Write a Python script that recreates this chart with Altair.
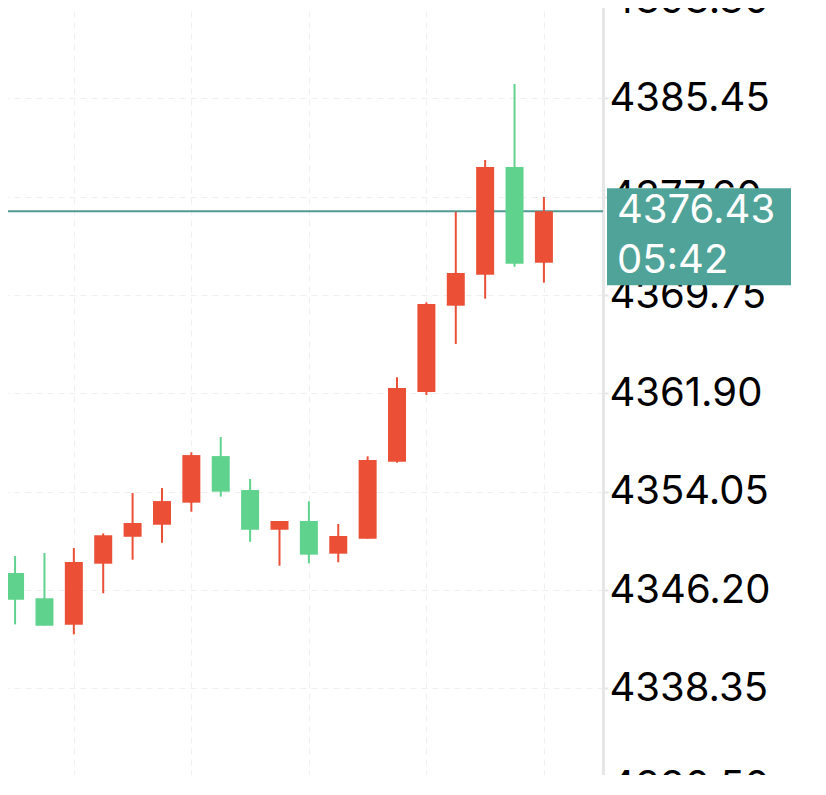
import altair as alt
import pandas as pd

# candle index, OHLC values
idx = list(range(19))
opens = [4347.57, 4345.55, 4343.44, 4348.31, 4350.46, 4351.42, 4353.18, 4356.90, 4354.19, 4351.02,
         4351.72, 4349.11, 4350.30, 4356.45, 4362.01, 4368.90, 4371.38, 4379.97, 4372.33]
highs = [4348.92, 4349.16, 4349.56, 4350.73, 4353.95, 4354.35, 4357.20, 4358.42, 4355.07, 4351.72,
         4353.29, 4351.48, 4356.88, 4363.19, 4369.17, 4376.40, 4380.53, 4386.60, 4377.58]
lows = [4343.47, 4343.36, 4342.67, 4345.95, 4348.63, 4349.98, 4352.46, 4353.66, 4350.06, 4348.15,
        4348.34, 4348.42, 4350.30, 4356.37, 4361.77, 4365.84, 4369.46, 4372.01, 4370.74]
closes = [4345.44, 4343.36, 4348.44, 4350.58, 4351.56, 4353.31, 4356.98, 4354.06, 4351.02, 4351.72,
          4349.03, 4350.52, 4356.59, 4362.33, 4369.04, 4371.51, 4379.97, 4372.25, 4376.43]

tick_values = [4393.30, 4385.45, 4377.60, 4369.75, 4361.90, 4354.05, 4346.20, 4338.35, 4330.50]
grid_x = [2, 6, 10, 14, 18]
last_price = 4376.43
countdown = "05:42"

UP = "#EB5037"
DOWN = "#5FD38D"
TEAL_LINE = "#4F9A93"
TEAL_BOX = "#4FA399"

df = pd.DataFrame({"i": idx, "open": opens, "high": highs, "low": lows, "close": closes})
df["dir"] = ["up" if c >= o else "down" for o, c in zip(opens, closes)]

last_df = pd.DataFrame({"price": [last_price], "label": [f"{last_price:.2f}"], "time": [countdown]})

xscale = alt.Scale(domain=[-0.343, 19.841], nice=False, zero=False)
yscale = alt.Scale(domain=[4329.85, 4393.30], nice=False, zero=False)
color = alt.Color("dir:N", scale=alt.Scale(domain=["up", "down"], range=[UP, DOWN]), legend=None)

FONT = "Inter"
FS = 40

xaxis = alt.Axis(values=grid_x, grid=True, labels=False, ticks=False, domain=False, title=None,
                 gridColor="#efefef", gridDash=[6, 5], gridWidth=1)
yaxis = alt.Axis(orient="right", values=tick_values, format=".2f", title=None, grid=True,
                 gridColor="#efefef", gridDash=[6, 5], gridWidth=1,
                 labelFont=FONT, labelFontSize=FS, labelColor="#000000",
                 labelPadding=1, tickSize=5, tickColor="#e6e6e6", tickWidth=2,
                 domainColor="#e6e6e6", domainWidth=3, labelOverlap=False)

base = alt.Chart(df)

grid = base.mark_point(opacity=0).encode(
    x=alt.X("i:Q", scale=xscale, axis=xaxis),
    y=alt.Y("close:Q", scale=yscale, axis=yaxis),
)

price_line = alt.Chart(last_df).mark_rule(color=TEAL_LINE, strokeWidth=2).encode(
    y=alt.Y("price:Q", scale=yscale)
)

wicks = base.mark_rule(strokeWidth=2).encode(
    x=alt.X("i:Q", scale=xscale),
    y=alt.Y("low:Q", scale=yscale),
    y2="high:Q",
    color=color,
)

bodies = base.mark_bar(size=18).encode(
    x=alt.X("i:Q", scale=xscale),
    y=alt.Y("open:Q", scale=yscale),
    y2="close:Q",
    color=color,
)

box = alt.Chart(last_df).mark_rect(color=TEAL_BOX, yOffset=-23, y2Offset=74).encode(
    x=alt.value(607), x2=alt.value(791),
    y=alt.Y("price:Q", scale=yscale), y2="price:Q",
)

price_text = alt.Chart(last_df).mark_text(
    align="left", baseline="middle", font=FONT, fontSize=FS, color="white"
).encode(x=alt.value(617), y=alt.Y("price:Q", scale=yscale), text="label:N")

time_text = alt.Chart(last_df).mark_text(
    align="left", baseline="middle", font=FONT, fontSize=FS, color="white", dy=50
).encode(x=alt.value(617), y=alt.Y("price:Q", scale=yscale), text="time:N")

chart = alt.layer(grid, price_line, wicks, bodies, box, price_text, time_text).properties(
    width=603, height=795,
    autosize=alt.AutoSizeParams(type="none"),
    padding={"left": -8, "top": -8, "right": 215, "bottom": -20},
    background="white",
).configure_view(stroke=None)

chart.save("out.html", embed_options={"renderer": "svg", "actions": False})
